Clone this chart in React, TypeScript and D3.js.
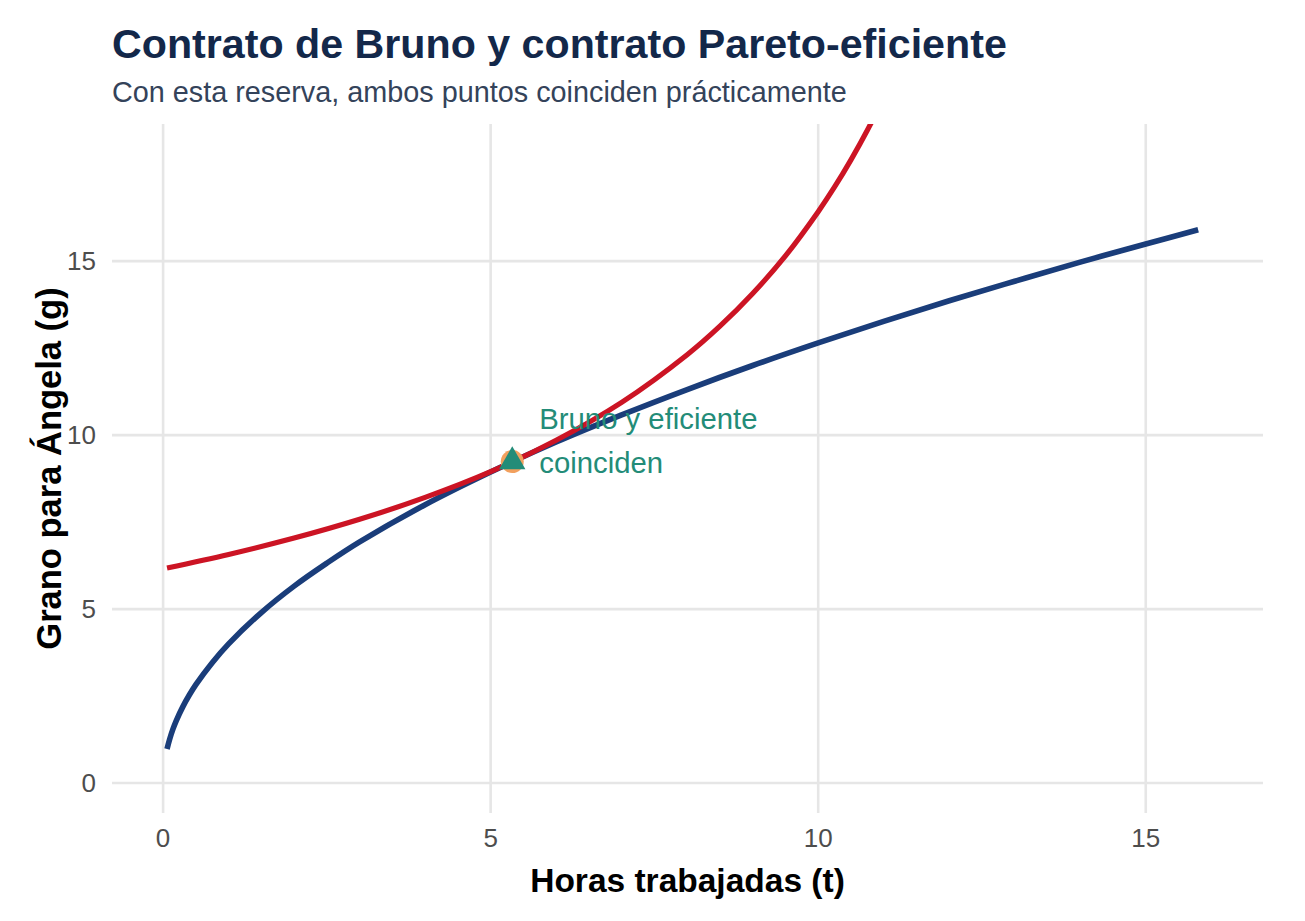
import React from "react";
import * as d3 from "d3";

// Data
const tProduction = [0.06, 0.1, 0.15, 0.2, 0.3, 0.4, 0.5, 0.75, 1, 1.5, 2, 2.5, 3, 4, 5, 6, 7, 8, 9, 10, 11, 12, 13, 14, 15, 15.8];
const gProduction = [0.98, 1.26, 1.55, 1.79, 2.19, 2.53, 2.83, 3.46, 4.0, 4.9, 5.66, 6.32, 6.93, 8.0, 8.94, 9.8, 10.58, 11.31, 12.0, 12.65, 13.27, 13.86, 14.42, 14.97, 15.49, 15.9];

const tIndifference = [0.06, 1, 2, 3, 4, 5, 6, 7, 8, 8.5, 9, 9.5, 10, 10.25, 10.5, 10.75, 11, 11.25, 11.5];
const gIndifference = [6.18, 6.57, 7.04, 7.58, 8.21, 8.95, 9.85, 10.94, 12.31, 13.13, 14.07, 15.15, 16.42, 17.13, 17.91, 18.76, 19.7, 20.74, 21.89];

const contractT = [5.33];
const contractG = [9.24];

const xTicks = [0, 5, 10, 15];
const yTicks = [0, 5, 10, 15];

const labelLines = ["Bruno y eficiente", "coinciden"];

const W = 1305;
const H = 921;
const panel = { left: 112, right: 1263, top: 124, bottom: 813 };

const FONT = "'Liberation Sans', Arial, Helvetica, sans-serif";

export default function App() {
  const x = d3.scaleLinear().domain([-0.78, 16.79]).range([panel.left, panel.right]);
  const y = d3.scaleLinear().domain([-0.86, 18.94]).range([panel.bottom, panel.top]);

  const line = d3
    .line<[number, number]>()
    .x((d) => x(d[0]))
    .y((d) => y(d[1]))
    .curve(d3.curveCatmullRom.alpha(0.5));

  const prodPts: [number, number][] = tProduction.map((t, i) => [t, gProduction[i]]);
  const indPts: [number, number][] = tIndifference.map((t, i) => [t, gIndifference[i]]);

  const tri = d3.symbol().type(d3.symbolTriangle).size(300)() as string;

  const px = x(contractT[0]);
  const py = y(contractG[0]);

  return (
    <svg width={W} height={H} style={{ position: "absolute", left: 0, top: 0, background: "#fff" }} fontFamily={FONT}>
      <defs>
        <clipPath id="panel-clip">
          <rect x={panel.left} y={panel.top} width={panel.right - panel.left} height={panel.bottom - panel.top} />
        </clipPath>
      </defs>
      {/* grid */}
      <g stroke="#E6E6E6" strokeWidth={2.6}>
        {yTicks.map((v) => (
          <line key={"gy" + v} x1={panel.left} x2={panel.right} y1={y(v)} y2={y(v)} />
        ))}
        {xTicks.map((v) => (
          <line key={"gx" + v} x1={x(v)} x2={x(v)} y1={panel.top} y2={panel.bottom} />
        ))}
      </g>
      {/* lines */}
      <g clipPath="url(#panel-clip)" fill="none" strokeLinejoin="round">
        <path d={line(prodPts) || ""} stroke="#1A3D7A" strokeWidth={5.6} />
        <path d={line(indPts) || ""} stroke="#CC1424" strokeWidth={5.2} />
      </g>
      {/* contract points */}
      <circle cx={px} cy={py} r={11.5} fill="#F2A05E" />
      <path d={tri} transform={`translate(${px},${py})`} fill="#238C78" />
      {/* annotation */}
      <text x={px + 27} y={py - 33} fontSize={29.3} fill="#238C78">
        {labelLines[0]}
      </text>
      <text x={px + 27} y={py + 11} fontSize={29.3} fill="#238C78">
        {labelLines[1]}
      </text>
      {/* tick labels */}
      <g fontSize={26} fill="#4D4D4D">
        {xTicks.map((v) => (
          <text key={"tx" + v} x={x(v)} y={847} textAnchor="middle">
            {v}
          </text>
        ))}
        {yTicks.map((v) => (
          <text key={"ty" + v} x={96} y={y(v) + 9} textAnchor="end">
            {v}
          </text>
        ))}
      </g>
      {/* axis titles */}
      <text x={(panel.left + panel.right) / 2} y={892} textAnchor="middle" fontSize={33.5} fontWeight="bold" fill="#000">
        Horas trabajadas (t)
      </text>
      <text
        transform={`translate(${49},${(panel.top + panel.bottom) / 2}) rotate(-90)`}
        textAnchor="middle"
        dominantBaseline="central"
        fontSize={34.5}
        fontWeight="bold"
        fill="#000"
      >
        Grano para Ángela (g)
      </text>
      {/* titles */}
      <text x={112} y={58} fontSize={41.2} fontWeight="bold" fill="#13284A">
        Contrato de Bruno y contrato Pareto-eficiente
      </text>
      <text x={112} y={102} fontSize={28.8} fill="#34435A">
        Con esta reserva, ambos puntos coinciden prácticamente
      </text>
    </svg>
  );
}
